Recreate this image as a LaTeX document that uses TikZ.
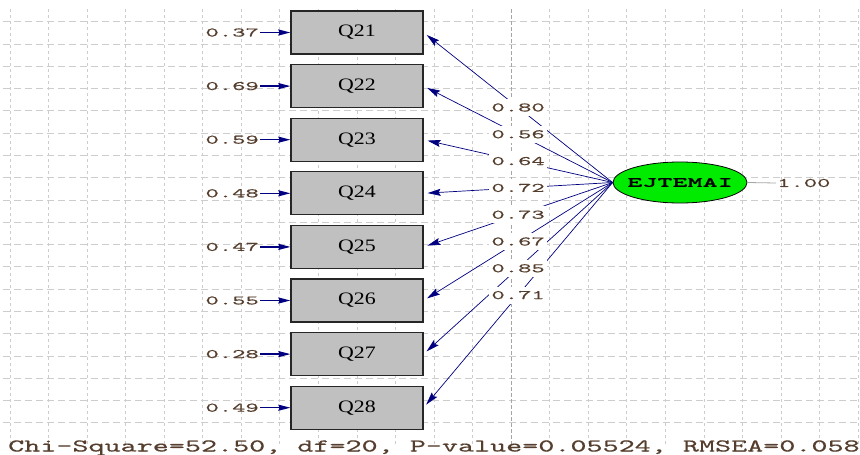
\documentclass[tikz,border=0pt]{standalone}
\usepackage{fontspec}
\usetikzlibrary{calc,arrows.meta,shapes.geometric}

% Stretched typewriter faces for numbers and fit line, serif for indicator names
\newfontfamily\numfont[FakeStretch=1.95,FakeBold=0.5]{lmmono10-regular.otf}
\newfontfamily\fitfont[FakeStretch=1.7,FakeBold=0.4]{lmmono10-regular.otf}
\newfontfamily\latfont[FakeStretch=2.05,FakeBold=0.5]{lmmonolt10-bold.otf}
\newfontfamily\boxfont[FakeStretch=1.25]{Liberation Serif}

\definecolor{pathblue}{RGB}{0,0,128}
\definecolor{numtxt}{RGB}{85,62,45}
\definecolor{gridc}{RGB}{205,205,205}
\definecolor{gridmid}{RGB}{165,165,165}
\definecolor{boxgray}{RGB}{192,192,192}
\definecolor{latgreen}{RGB}{0,235,0}

\tikzset{
  gridv/.style={gridc, line width=0.8pt, dash pattern=on 3pt off 3pt},
  gridh/.style={gridc, line width=0.8pt, dash pattern=on 7pt off 4pt},
  obsbox/.style={draw=black!85, line width=1.2pt, fill=boxgray, rectangle,
    minimum width=132pt, minimum height=43pt, inner sep=0pt,
    font=\boxfont\fontsize{17.5}{17.5}\selectfont},
  latent/.style={ellipse, draw=black, line width=0.8pt, fill=latgreen,
    minimum width=134pt, minimum height=41pt, inner sep=0pt,
    font=\latfont\fontsize{14}{14}\selectfont},
  numlbl/.style={text=numtxt, inner sep=1pt,
    font=\numfont\fontsize{13}{13}\selectfont},
  loadlbl/.style={numlbl, fill=white, inner sep=0pt, minimum height=17pt,
    minimum width=58pt},
  fitlbl/.style={text=numtxt, inner sep=0pt,
    font=\fitfont\fontsize{18}{18}\selectfont},
  errarrow/.style={pathblue, line width=1.3pt,
    -{Stealth[length=12pt,width=6pt,inset=1pt]}},
  loadarrow/.style={pathblue, line width=0.7pt, shorten >=4pt,
    -{Stealth[length=13pt,width=7pt,inset=2pt]}},
  varline/.style={gray!70, line width=0.8pt}
}

\begin{document}
\begin{tikzpicture}[x=1pt,y=-1pt]
  \useasboundingbox (0,0) rectangle (860,455);
  \fill[white] (0,0) rectangle (860,455);

  % background grid
  \foreach \k in {0,...,22}
    \draw[gridv] ({10+38.55*\k},9) -- ({10+38.55*\k},446);
  \foreach \k in {0,...,18}
    \draw[gridh] (3,{21.7+22.28*\k}) -- (860,{21.7+22.28*\k});
  \draw[gridmid, line width=0.8pt, dash pattern=on 4pt off 2pt] (511,9) -- (511,452);

  % observed indicators with their error variances
  \foreach \n/\e [count=\i from 0] in
      {21/0.37,22/0.69,23/0.59,24/0.48,25/0.47,26/0.55,27/0.28,28/0.49} {
    \node[obsbox] (q\n) at (357,{32.5+53.6*\i}) {Q\n};
    \node[numlbl, anchor=east] (e\n) at (260,{32.5+53.6*\i}) {\e};
    \draw[errarrow] (e\n.east) -- (q\n.west);
  }

  % latent factor (zero-width label so the ellipse keeps its set size)
  \node[latent] (lat) at (680,182.5) {\makebox[0pt]{EJTEMAI}};
  \node[numlbl, anchor=west] (var) at (776,183) {1.00};
  \draw[varline] (lat.east) -- (var.west);

  % factor loadings
  \foreach \n in {21,...,28}
    \draw[loadarrow] (lat.west) -- (q\n.east);
  \foreach \n/\v in {21/0.80,22/0.56,23/0.64,24/0.72,25/0.73,26/0.67,27/0.85,28/0.71}
    \node[loadlbl] (l\n) at ($(lat.west)!0.5!(q\n.east)$) {\v};

  % goodness-of-fit line
  \node[fitlbl, anchor=base west] (fit) at (8,451.5)
    {Chi-Square=52.50, df=20, P-value=0.05524, RMSEA=0.058};
\end{tikzpicture}
\end{document}
